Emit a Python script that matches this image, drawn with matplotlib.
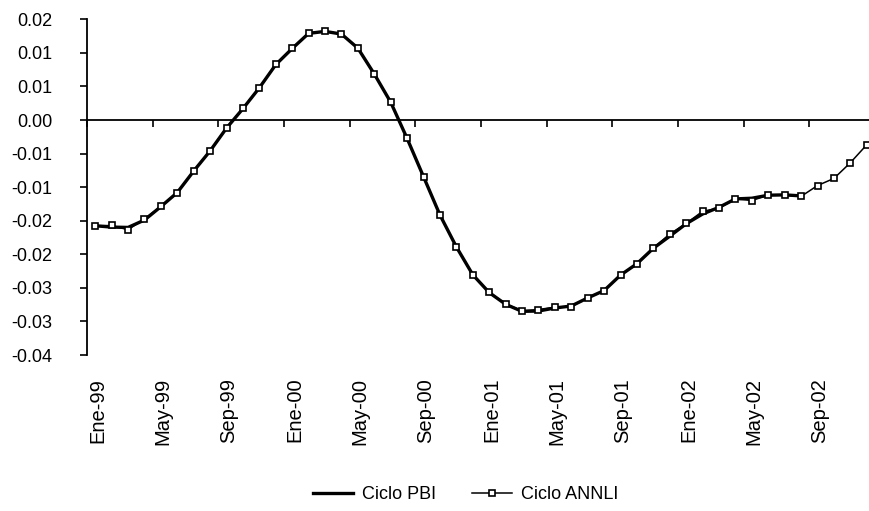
#!/usr/bin/env python3
"""Ciclo PBI vs Ciclo ANNLI, monthly 1999-2002."""

import matplotlib

matplotlib.use("Agg")
import matplotlib.pyplot as plt
import matplotlib.transforms as mtransforms
import numpy as np

plt.rcParams["font.family"] = ["Liberation Sans", "DejaVu Sans"]

month_names = ["Ene", "Feb", "Mar", "Abr", "May", "Jun",
               "Jul", "Ago", "Sep", "Oct", "Nov", "Dic"]
years = ["99", "00", "01", "02"]
months = [f"{m}-{y}" for y in years for m in month_names]

ciclo_annli = [
    -0.01575, -0.01571, -0.01635, -0.01471, -0.01288, -0.01083,
    -0.00756, -0.00458, -0.00115, 0.00173, 0.00481, 0.00829,
    0.01067, 0.01297, 0.01320, 0.01282, 0.01073, 0.00686,
    0.00268, -0.00274, -0.00845, -0.01416, -0.01888, -0.02305,
    -0.02566, -0.02738, -0.02842, -0.02823, -0.02787, -0.02782,
    -0.02644, -0.02548, -0.02305, -0.02149, -0.01906, -0.01697,
    -0.01541, -0.01359, -0.01314, -0.01173, -0.01200, -0.01118,
    -0.01118, -0.01137, -0.00976, -0.00870, -0.00636, -0.00368,
]

ciclo_pbi = [
    -0.01575, -0.01595, -0.01600, -0.01490, -0.01290, -0.01080,
    -0.00760, -0.00460, -0.00120, 0.00170, 0.00480, 0.00825,
    0.01065, 0.01290, 0.01320, 0.01280, 0.01070, 0.00685,
    0.00265, -0.00275, -0.00845, -0.01415, -0.01890, -0.02305,
    -0.02570, -0.02745, -0.02850, -0.02845, -0.02800, -0.02770,
    -0.02650, -0.02540, -0.02310, -0.02140, -0.01910, -0.01730,
    -0.01545, -0.01400, -0.01300, -0.01175, -0.01165, -0.01120,
    -0.01115, -0.01130,
]

y_ticks = [0.015, 0.01, 0.005, 0.0, -0.005, -0.01, -0.015,
           -0.02, -0.025, -0.03, -0.035]
y_tick_labels = ["0.02", "0.01", "0.01", "0.00", "-0.01", "-0.01",
                 "-0.02", "-0.02", "-0.03", "-0.03", "-0.04"]

W, H = 870, 511
fig = plt.figure(figsize=(W / 100, H / 100), dpi=100)
ax = fig.add_axes([87 / W, 1 - 355 / H, 788 / W, (355 - 19.3) / H])

x_annli = np.arange(len(ciclo_annli))
x_pbi = np.arange(len(ciclo_pbi))

ax.plot(x_pbi, ciclo_pbi, color="black", linewidth=2.4, label="Ciclo PBI",
        zorder=3)
ax.plot(x_annli, ciclo_annli, color="black", linewidth=1.1, marker="s",
        markersize=5, markerfacecolor="white", markeredgecolor="black",
        markeredgewidth=1.2, label="Ciclo ANNLI", zorder=4)

ax.set_xlim(-0.5, len(months) - 0.5)
ax.set_ylim(-0.035, 0.015)

ax.spines["top"].set_visible(False)
ax.spines["right"].set_visible(False)
ax.spines["left"].set_linewidth(1.3)
ax.spines["bottom"].set_position(("data", 0))
ax.spines["bottom"].set_linewidth(1.3)

ax.set_yticks(y_ticks)
ax.set_yticklabels(y_tick_labels)
ax.tick_params(axis="y", direction="out", length=5, width=1.2, pad=20,
               labelsize=13)

# category boundaries every 4 months, labels at category centers
ax.set_xticks(np.arange(-0.5, len(months), 4))
ax.tick_params(axis="x", direction="out", length=5, width=1.2,
               labelbottom=False)

trans = mtransforms.blended_transform_factory(ax.transData, ax.transAxes)
for i in range(0, len(months), 4):
    ax.text(i + 0.15, -0.068, months[i], transform=trans, rotation=90,
            ha="center", va="top", fontsize=14.5)

fig.legend(loc="lower center", bbox_to_anchor=(0.535, -0.016), ncol=2,
           frameon=False, fontsize=13, handlelength=2.2, handletextpad=0.5,
           columnspacing=2.0)

fig.savefig("out.png")
